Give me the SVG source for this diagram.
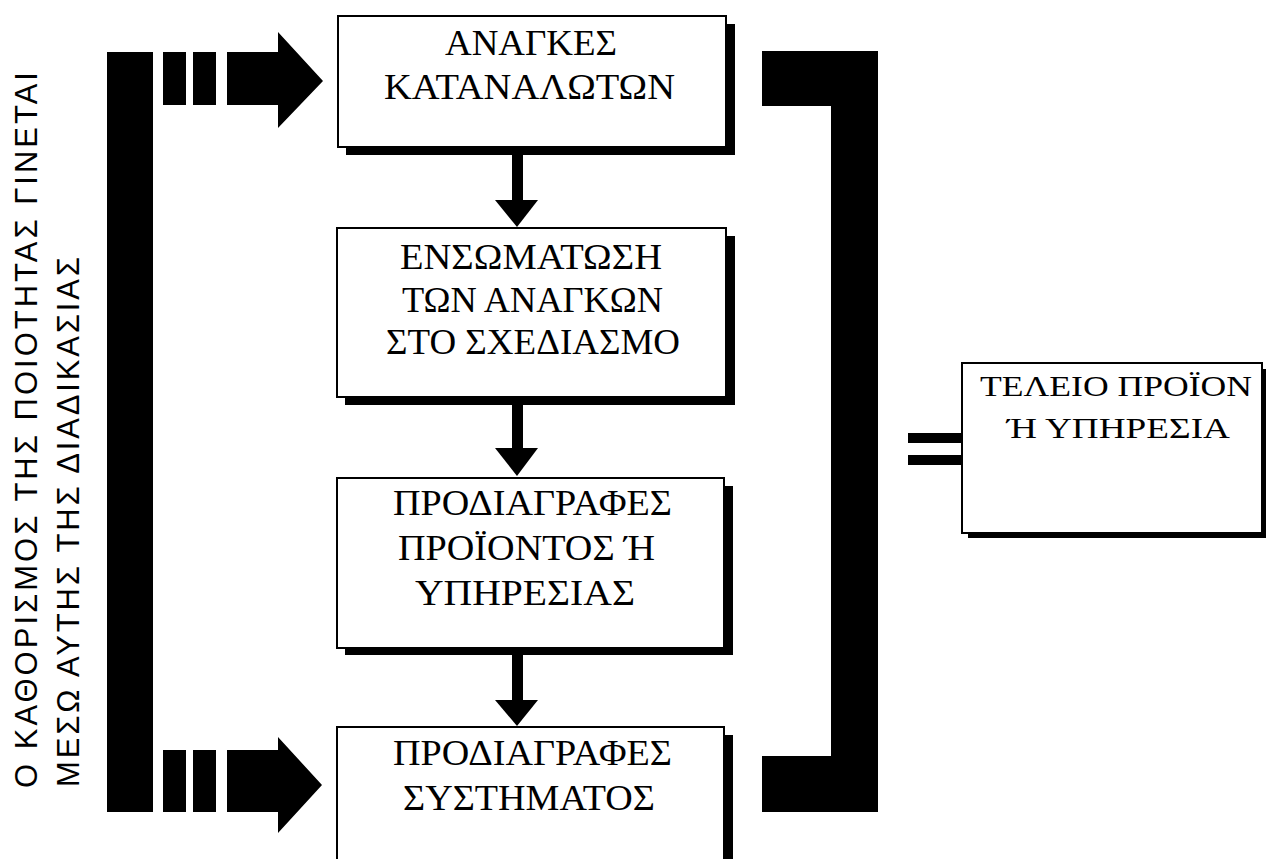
<svg xmlns="http://www.w3.org/2000/svg" width="1266" height="859" viewBox="0 0 1266 859">
<style>
.box{fill:#fff;stroke:#000;stroke-width:2}
.shadow{fill:#000}
.t{font-family:"Liberation Serif","Times New Roman",serif;font-size:35px;fill:#000}
.tr{font-family:"Liberation Serif","Times New Roman",serif;font-size:30px;fill:#000}
.side{font-family:"Liberation Sans",Arial,sans-serif;font-size:31px;fill:#000}
.blk{fill:#000}
</style>
<rect width="1266" height="859" fill="#fff"/>

<g id="side-label">
<text class="side" transform="translate(37,788) rotate(-90)" textLength="716">Ο ΚΑΘΟΡΙΣΜΟΣ ΤΗΣ ΠΟΙΟΤΗΤΑΣ ΓΙΝΕΤΑΙ</text>
<text class="side" transform="translate(79,787) rotate(-90)" textLength="530">ΜΕΣΩ ΑΥΤΗΣ ΤΗΣ ΔΙΑΔΙΚΑΣΙΑΣ</text>
</g>

<g id="connectors">
<rect class="blk" x="107" y="52" width="46" height="760"/>
<rect class="blk" x="163" y="52" width="23" height="53"/>
<rect class="blk" x="193" y="52" width="23" height="53"/>
<polygon class="blk" points="227,52 278,52 278,32 323,81 278,128 278,105 227,105"/>
<rect class="blk" x="163" y="750" width="23" height="62"/>
<rect class="blk" x="193" y="750" width="23" height="62"/>
<polygon class="blk" points="227,750 278,750 278,737 322,785 278,833 278,812 227,812"/>
<rect class="blk" x="512" y="155" width="11" height="46"/>
<polygon class="blk" points="495,200 538,200 517,227"/>
<rect class="blk" x="512" y="405" width="11" height="44"/>
<polygon class="blk" points="495,448 538,448 517,476"/>
<rect class="blk" x="512" y="655" width="11" height="46"/>
<polygon class="blk" points="495,700 538,700 517,726"/>
<path class="blk" d="M762,51 H878 V812 H762 V756 H831 V106 H762 Z"/>
<rect class="blk" x="908" y="433" width="54" height="10"/>
<rect class="blk" x="908" y="455" width="54" height="10"/>
</g>

<g id="node-needs">
<rect class="shadow" x="346" y="24" width="389" height="131"/>
<rect class="box" x="338" y="16" width="388" height="131"/>
<text class="t" x="445" y="55" textLength="172" lengthAdjust="spacingAndGlyphs">ΑΝΑΓΚΕΣ</text>
<text class="t" x="384" y="99" textLength="291" lengthAdjust="spacingAndGlyphs">ΚΑΤΑΝΑΛΩΤΩΝ</text>
</g>

<g id="node-design">
<rect class="shadow" x="345" y="236" width="390" height="169"/>
<rect class="box" x="337" y="228" width="389" height="169"/>
<text class="t" x="400" y="269" textLength="262" lengthAdjust="spacingAndGlyphs">ΕΝΣΩΜΑΤΩΣΗ</text>
<text class="t" x="402" y="312" textLength="261" lengthAdjust="spacingAndGlyphs">ΤΩΝ ΑΝΑΓΚΩΝ</text>
<text class="t" x="386" y="354" textLength="294" lengthAdjust="spacingAndGlyphs">ΣΤΟ ΣΧΕΔΙΑΣΜΟ</text>
</g>

<g id="node-product-spec">
<rect class="shadow" x="345" y="486" width="388" height="169"/>
<rect class="box" x="337" y="478" width="387" height="170"/>
<text class="t" x="393" y="515" textLength="279" lengthAdjust="spacingAndGlyphs">ΠΡΟΔΙΑΓΡΑΦΕΣ</text>
<text class="t" x="398" y="560" textLength="257" lengthAdjust="spacingAndGlyphs">ΠΡΟΪΟΝΤΟΣ Ή</text>
<text class="t" x="415" y="605" textLength="220" lengthAdjust="spacingAndGlyphs">ΥΠΗΡΕΣΙΑΣ</text>
</g>

<g id="node-system-spec">
<rect class="shadow" x="345" y="735" width="388" height="140"/>
<rect class="box" x="337" y="727" width="387" height="140"/>
<text class="t" x="393" y="765" textLength="279" lengthAdjust="spacingAndGlyphs">ΠΡΟΔΙΑΓΡΑΦΕΣ</text>
<text class="t" x="403" y="810" textLength="252" lengthAdjust="spacingAndGlyphs">ΣΥΣΤΗΜΑΤΟΣ</text>
</g>

<g id="node-result">
<rect class="shadow" x="968" y="369" width="300" height="169"/>
<rect class="box" x="962" y="363" width="300" height="170"/>
<text class="tr" x="980" y="396" textLength="272" lengthAdjust="spacingAndGlyphs">ΤΕΛΕΙΟ ΠΡΟΪΟΝ</text>
<text class="tr" x="1007" y="438" textLength="223" lengthAdjust="spacingAndGlyphs">Ή ΥΠΗΡΕΣΙΑ</text>
</g>
</svg>
